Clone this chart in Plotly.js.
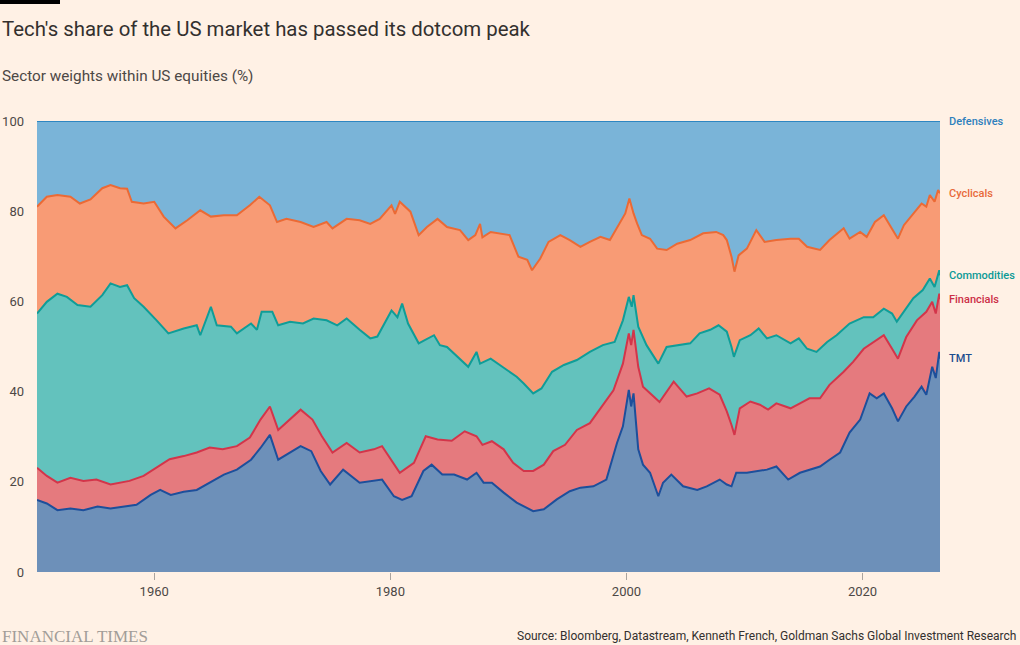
<!DOCTYPE html>
<html>
<head>
<meta charset="utf-8">
<script src="https://cdn.plot.ly/plotly-3.0.1.min.js"></script>
<style>
  html, body { margin: 0; padding: 0; background: #fff1e5; }
  #sectorChart { width: 1020px; height: 645px; }
</style>
</head>
<body>
<div id="sectorChart"></div>
<script>
// Cumulative sector weights (%): each array is the top edge of its band
const tmtYears = [1950.07, 1950.9, 1951.8, 1952.9, 1954.0, 1955.2, 1956.3, 1957.4, 1958.5, 1959.7, 1960.5, 1961.4, 1962.5, 1963.6, 1964.8, 1965.9, 1967.0, 1968.2, 1969.0, 1969.8,
    1970.5, 1971.5, 1972.4, 1973.3, 1974.1, 1974.9, 1976.0, 1977.4, 1978.6, 1979.3, 1980.3, 1981.0, 1981.8, 1982.8, 1983.5, 1984.4, 1985.4, 1986.5, 1987.3, 1987.9, 1988.6,
    1989.6, 1990.7, 1992.1, 1993.0, 1994.1, 1995.2, 1996.1, 1997.2, 1998.3, 1999.2, 1999.7, 2000.2, 2000.4, 2000.6, 2001.0, 2001.4, 2002.0, 2002.7, 2003.1, 2003.8, 2004.8,
    2006.0, 2006.8, 2007.9, 2008.5, 2008.9, 2009.3, 2010.2, 2011.0, 2011.9, 2012.7, 2013.7, 2014.7, 2015.5, 2016.4, 2017.2, 2018.1, 2018.9, 2019.8, 2020.2, 2020.6,
    2021.2, 2021.8, 2022.5, 2023.0, 2023.7, 2024.4, 2025.0, 2025.4, 2025.9, 2026.2, 2026.5, 2026.56]
const tmtTop = [16, 15.2, 13.7, 14.1, 13.7, 14.5, 14.1, 14.5, 14.9, 17.1, 18.2, 17.1, 17.8, 18.2, 20, 21.6, 22.7, 24.9, 27.5, 30.4,
    24.9, 26.5, 27.9, 26.8, 22.4, 19.4, 22.7, 19.8, 20.2, 20.5, 16.8, 16, 16.8, 22.4, 23.8, 21.6, 21.6, 20.5, 22, 19.8, 19.8,
    17.6, 15.4, 13.5, 13.9, 16.1, 17.9, 18.7, 19, 20.5, 28.6, 32.3, 40.4, 36.7, 39.6, 27.2, 23.8, 22, 16.8, 19.8, 21.6, 19,
    18.2, 19, 20.5, 19.4, 19, 22, 22, 22.4, 22.7, 23.4, 20.5, 22, 22.7, 23.4, 24.9, 26.5, 30.9, 33.8, 36.7, 39.6,
    38.5, 39.6, 36.3, 33.4, 36.7, 38.9, 41.1, 39.3, 45.5, 43, 48.8, 47.3]

const financialsYears = [1950.07, 1950.9, 1951.8, 1952.9, 1954.0, 1955.1, 1956.3, 1957.1, 1957.9, 1959.1, 1960.2, 1961.3, 1962.5, 1963.6, 1964.7, 1965.8, 1967.0, 1968.1, 1969.0, 1969.8,
    1970.5, 1971.5, 1972.4, 1973.4, 1974.2, 1975.1, 1976.3, 1977.4, 1978.6, 1979.3, 1980.0, 1980.8, 1982.0, 1983.0, 1984.0, 1985.2, 1986.3, 1987.3, 1987.8, 1988.6,
    1989.6, 1990.4, 1991.3, 1992.1, 1993.0, 1993.8, 1994.8, 1995.8, 1996.9, 1998.0, 1998.9, 1999.7, 2000.2, 2000.4, 2000.6, 2001.0, 2001.4, 2002.3, 2002.8, 2004.0,
    2005.1, 2006.0, 2007.0, 2007.9, 2008.5, 2008.9, 2009.15, 2009.6, 2010.5, 2011.3, 2012.0, 2012.7, 2013.9, 2014.7, 2015.5, 2016.4, 2017.2, 2018.4, 2019.2, 2020.1,
    2020.9, 2021.8, 2022.5, 2023.0, 2023.7, 2024.6, 2025.4, 2025.9, 2026.2, 2026.5, 2026.56]
const financialsTop = [23.1, 21.3, 19.8, 20.9, 20.2, 20.5, 19.4, 19.8, 20.2, 21.3, 23.1, 25, 25.7, 26.5, 27.6, 27.2, 27.9, 29.8, 33.8, 36.7,
    31.5, 33.8, 36, 33.8, 30.1, 26.5, 28.6, 26.5, 27.2, 27.9, 25, 22, 24.2, 30.1, 29.4, 29.1, 31.2, 30.1, 28.2, 29,
    27.2, 24.2, 22.4, 22.4, 23.8, 26.8, 28.2, 31.5, 33, 37.1, 40.3, 46.2, 52.9, 50.3, 53.7, 45.5, 41.1, 38.9, 37.7, 42.2,
    38.9, 39.6, 40.7, 39.3, 35.6, 32.6, 30.4, 36.3, 37.8, 37.1, 36, 37.4, 36.3, 37.4, 38.5, 38.5, 41.5, 44.4, 46.6, 49.5,
    51, 52.5, 49.5, 47.3, 52.1, 55.8, 57.7, 59.9, 57.3, 61.7, 60.5]

const commoditiesYears = [1950.07, 1950.9, 1951.8, 1952.6, 1953.5, 1954.6, 1955.6, 1956.3, 1957.1, 1957.7, 1958.3, 1959.1, 1960.2, 1961.2, 1962.5, 1963.6, 1963.9, 1964.8, 1965.3, 1966.5, 1967.0, 1968.2, 1968.7, 1969.1,
    1970.0, 1970.5, 1971.5, 1972.6, 1973.5, 1974.6, 1975.5, 1976.3, 1977.4, 1978.3, 1978.9, 1979.4, 1980.1, 1980.6, 1981.0, 1981.5, 1982.4, 1983.7, 1984.2, 1984.8, 1985.9, 1986.6, 1987.3, 1987.6, 1988.5,
    1989.9, 1990.7, 1991.3, 1992.1, 1992.8, 1993.7, 1994.7, 1995.8, 1996.9, 1998.0, 1999.0, 1999.7, 2000.2, 2000.45, 2000.6, 2001.0, 2001.7, 2002.7, 2003.4, 2004.3, 2005.4, 2006.2, 2007.1, 2007.8,
    2008.5, 2008.9, 2009.1, 2009.6, 2010.5, 2011.2, 2011.9, 2012.7, 2013.9, 2014.6, 2015.3, 2016.1, 2017.0, 2017.8, 2018.9, 2020.1, 2020.9, 2021.8, 2022.5, 2022.9, 2023.5, 2024.3, 2025.1, 2025.7, 2026.1, 2026.5, 2026.56]
const commoditiesTop = [57.3, 59.9, 61.7, 61, 59.2, 58.8, 61.4, 64, 63.2, 63.6, 60.7, 58.8, 55.8, 52.9, 54, 54.7, 52.5, 58.8, 54.7, 54.4, 52.9, 55.1, 53.7, 57.7,
    57.7, 54.7, 55.5, 55.1, 56.2, 55.8, 54.7, 56.2, 53.7, 51.8, 52.2, 54.7, 58, 56.5, 59.5, 55.1, 50.7, 52.5, 50.3, 49.9, 47.3, 45.5, 48.8, 46.2, 47.3,
    44.8, 43.3, 41.8, 39.6, 40.7, 44.4, 45.9, 47, 48.8, 50.3, 51, 55.8, 61, 58.8, 61.4, 54.4, 50.3, 46.2, 49.9, 50.3, 50.7, 52.9, 53.7, 54.7,
    53.3, 49.9, 47.7, 51.4, 52.5, 54, 51.8, 52.5, 50.7, 51.8, 49.5, 48.8, 51, 52.5, 55.1, 56.5, 56.5, 58.4, 57.3, 55.5, 57.7, 60.7, 62.5, 65.1, 63.2, 66.9, 65.8]

const cyclicalsYears = [1950.07, 1950.9, 1951.8, 1952.9, 1953.7, 1954.6, 1955.6, 1956.3, 1957.1, 1957.7, 1958.1, 1959.1, 1960.0, 1960.8, 1961.8, 1962.8, 1963.9, 1964.8, 1965.9, 1967.0, 1968.1, 1968.9, 1969.8,
    1970.4, 1971.2, 1972.4, 1973.5, 1974.6, 1975.1, 1976.3, 1977.4, 1978.3, 1979.1, 1980.1, 1980.4, 1980.8, 1981.7, 1982.4, 1983.1, 1984.0, 1984.8, 1985.9, 1986.6, 1987.2, 1987.6, 1987.8, 1988.5,
    1989.3, 1990.1, 1990.85, 1991.6, 1992.0, 1992.7, 1993.4, 1994.4, 1995.2, 1996.1, 1996.9, 1997.8, 1998.6, 1999.3, 1999.9, 2000.25, 2000.6, 2000.9, 2001.3, 2002.0, 2002.6, 2003.4, 2004.3, 2005.4, 2006.5, 2007.6, 2008.2,
    2008.5, 2008.9, 2009.15, 2009.5, 2010.2, 2011.0, 2011.7, 2012.7, 2013.9, 2014.6, 2015.3, 2016.1, 2016.4, 2017.2, 2018.4, 2018.9, 2019.8, 2020.35, 2021.05, 2021.8, 2022.5, 2023.0, 2023.5, 2024.3, 2025.0, 2025.4, 2025.7, 2026.1, 2026.4, 2026.56]
const cyclicalsTop = [81, 83.2, 83.6, 83.2, 81.7, 82.6, 85.1, 85.8, 85.1, 85, 82.1, 81.7, 82.1, 78.8, 76.2, 78, 80.2, 78.8, 79.1, 79.1, 81.3, 83.2, 81.3,
    77.6, 78.3, 77.6, 76.5, 77.6, 76.2, 78.3, 78, 77.2, 78.3, 81.3, 79.4, 82.1, 79.9, 74.7, 76.5, 78.3, 76.5, 75.8, 73.6, 74.7, 77.2, 74.2, 75.4,
    75.1, 74.7, 69.9, 69.2, 66.9, 69.5, 73.2, 74.7, 73.6, 72.1, 73.2, 74.3, 73.6, 76.9, 79.5, 82.8, 79.5, 77.3, 74.7, 73.9, 71.7, 71.4, 72.8, 73.6, 75.1, 75.4, 74.7,
    73.6, 69.9, 66.6, 70.2, 71.7, 75.8, 73.2, 73.6, 73.9, 73.9, 72.1, 71.7, 71.4, 73.6, 76.2, 73.9, 75.4, 74.3, 77.6, 79.1, 76.2, 73.9, 76.9, 79.5, 81.7, 81, 83.6, 82.1, 84.7, 84]

const defensivesYears = [1950.07, 2026.56]
const defensivesTop = [100, 100]

const sectors = [
    { name: 'TMT', x: tmtYears, y: tmtTop, line: '#1d4f9b', fill: '#6d90b9', label: '#1c4d8f' },
    { name: 'Financials', x: financialsYears, y: financialsTop, line: '#d3354a', fill: '#e57a7e', label: '#cc2f45' },
    { name: 'Commodities', x: commoditiesYears, y: commoditiesTop, line: '#0f9d98', fill: '#63c2bd', label: '#0d9a96' },
    { name: 'Cyclicals', x: cyclicalsYears, y: cyclicalsTop, line: '#eb6a35', fill: '#f89b75', label: '#e86a3a' },
    { name: 'Defensives', x: defensivesYears, y: defensivesTop, line: '#2e86c1', fill: '#7ab4d8', label: '#2e80bd' },
]

const xTicks = [1960, 1980, 2000, 2020]
const yTicks = [0, 20, 40, 60, 80, 100]

function drawChart() {
    const chart = document.getElementById('sectorChart')
    const font = 'Roboto, "Noto Sans", sans-serif'

    const data = sectors.map((s, i) => ({
        x: s.x,
        y: s.y,
        name: s.name,
        type: 'scatter',
        mode: 'lines',
        line: { color: s.line, width: 2 },
        fill: i === 0 ? 'tozeroy' : 'tonexty',
        fillcolor: s.fill,
        hoverinfo: 'skip',
        showlegend: false,
    }))

    // sector names sit just right of the plot, at the last value of each band
    const labels = sectors.map(s => ({
        text: s.name,
        xref: 'paper', yref: 'y',
        x: 1, y: s.y[s.y.length - 1],
        xanchor: 'left', yanchor: 'middle',
        xshift: 7,
        showarrow: false,
        font: { family: font, size: 11, color: s.label, weight: 500 },
    }))

    // plot area is 903 x 451 px, paper coords are worked out from pixel positions
    const px = v => v / 903
    const py = v => (572 - v) / 451

    const texts = [
        {
            text: "Tech's share of the US market has passed its dotcom peak",
            x: px(-37), y: py(29), font: { family: font, size: 20.4, color: '#33302e' },
        },
        {
            text: 'Sector weights within US equities (%)',
            x: px(-37), y: py(76), font: { family: font, size: 15.3, color: '#4d4845' },
        },
        {
            text: 'FINANCIAL TIMES',
            x: px(-37), y: py(636), font: { family: '"Liberation Serif", serif', size: 17, color: '#a29d98' },
        },
        {
            text: 'Source: Bloomberg, Datastream, Kenneth French, Goldman Sachs Global Investment Research',
            x: px(1018 - 37), y: py(636), xanchor: 'right', font: { family: font, size: 12, color: '#33302e' },
        },
    ].map(a => Object.assign({ xref: 'paper', yref: 'paper', xanchor: 'left', yanchor: 'middle', showarrow: false }, a))

    const layout = {
        width: 1020,
        height: 645,
        paper_bgcolor: '#fff1e5',
        plot_bgcolor: '#fff1e5',
        margin: { l: 37, r: 80, t: 121, b: 73, pad: 0 },
        font: { family: font, color: '#4d4845' },
        xaxis: {
            range: [1950.07, 2026.56],
            tickvals: xTicks,
            ticktext: xTicks.map(String),
            ticks: 'outside',
            ticklen: 7,
            tickcolor: '#aaa39e',
            showgrid: false,
            zeroline: false,
            showline: false,
            tickfont: { size: 13, color: '#4d4845' },
            layer: 'above traces',
        },
        yaxis: {
            range: [0, 100],
            tickvals: yTicks,
            showgrid: true,
            gridcolor: 'rgba(40,30,30,0.22)',
            gridwidth: 1,
            zeroline: false,
            showline: false,
            ticks: '',
            ticklabelstandoff: 12,
            tickfont: { size: 13, color: '#4d4845' },
            layer: 'above traces',
        },
        shapes: [{
            type: 'rect', xref: 'paper', yref: 'paper',
            x0: px(-37), x1: px(60 - 37), y0: py(0), y1: py(4),
            fillcolor: '#000', line: { width: 0 },
        }],
        annotations: labels.concat(texts),
    }

    Plotly.newPlot(chart, data, layout, { staticPlot: true })
}

drawChart()
</script>
</body>
</html>
